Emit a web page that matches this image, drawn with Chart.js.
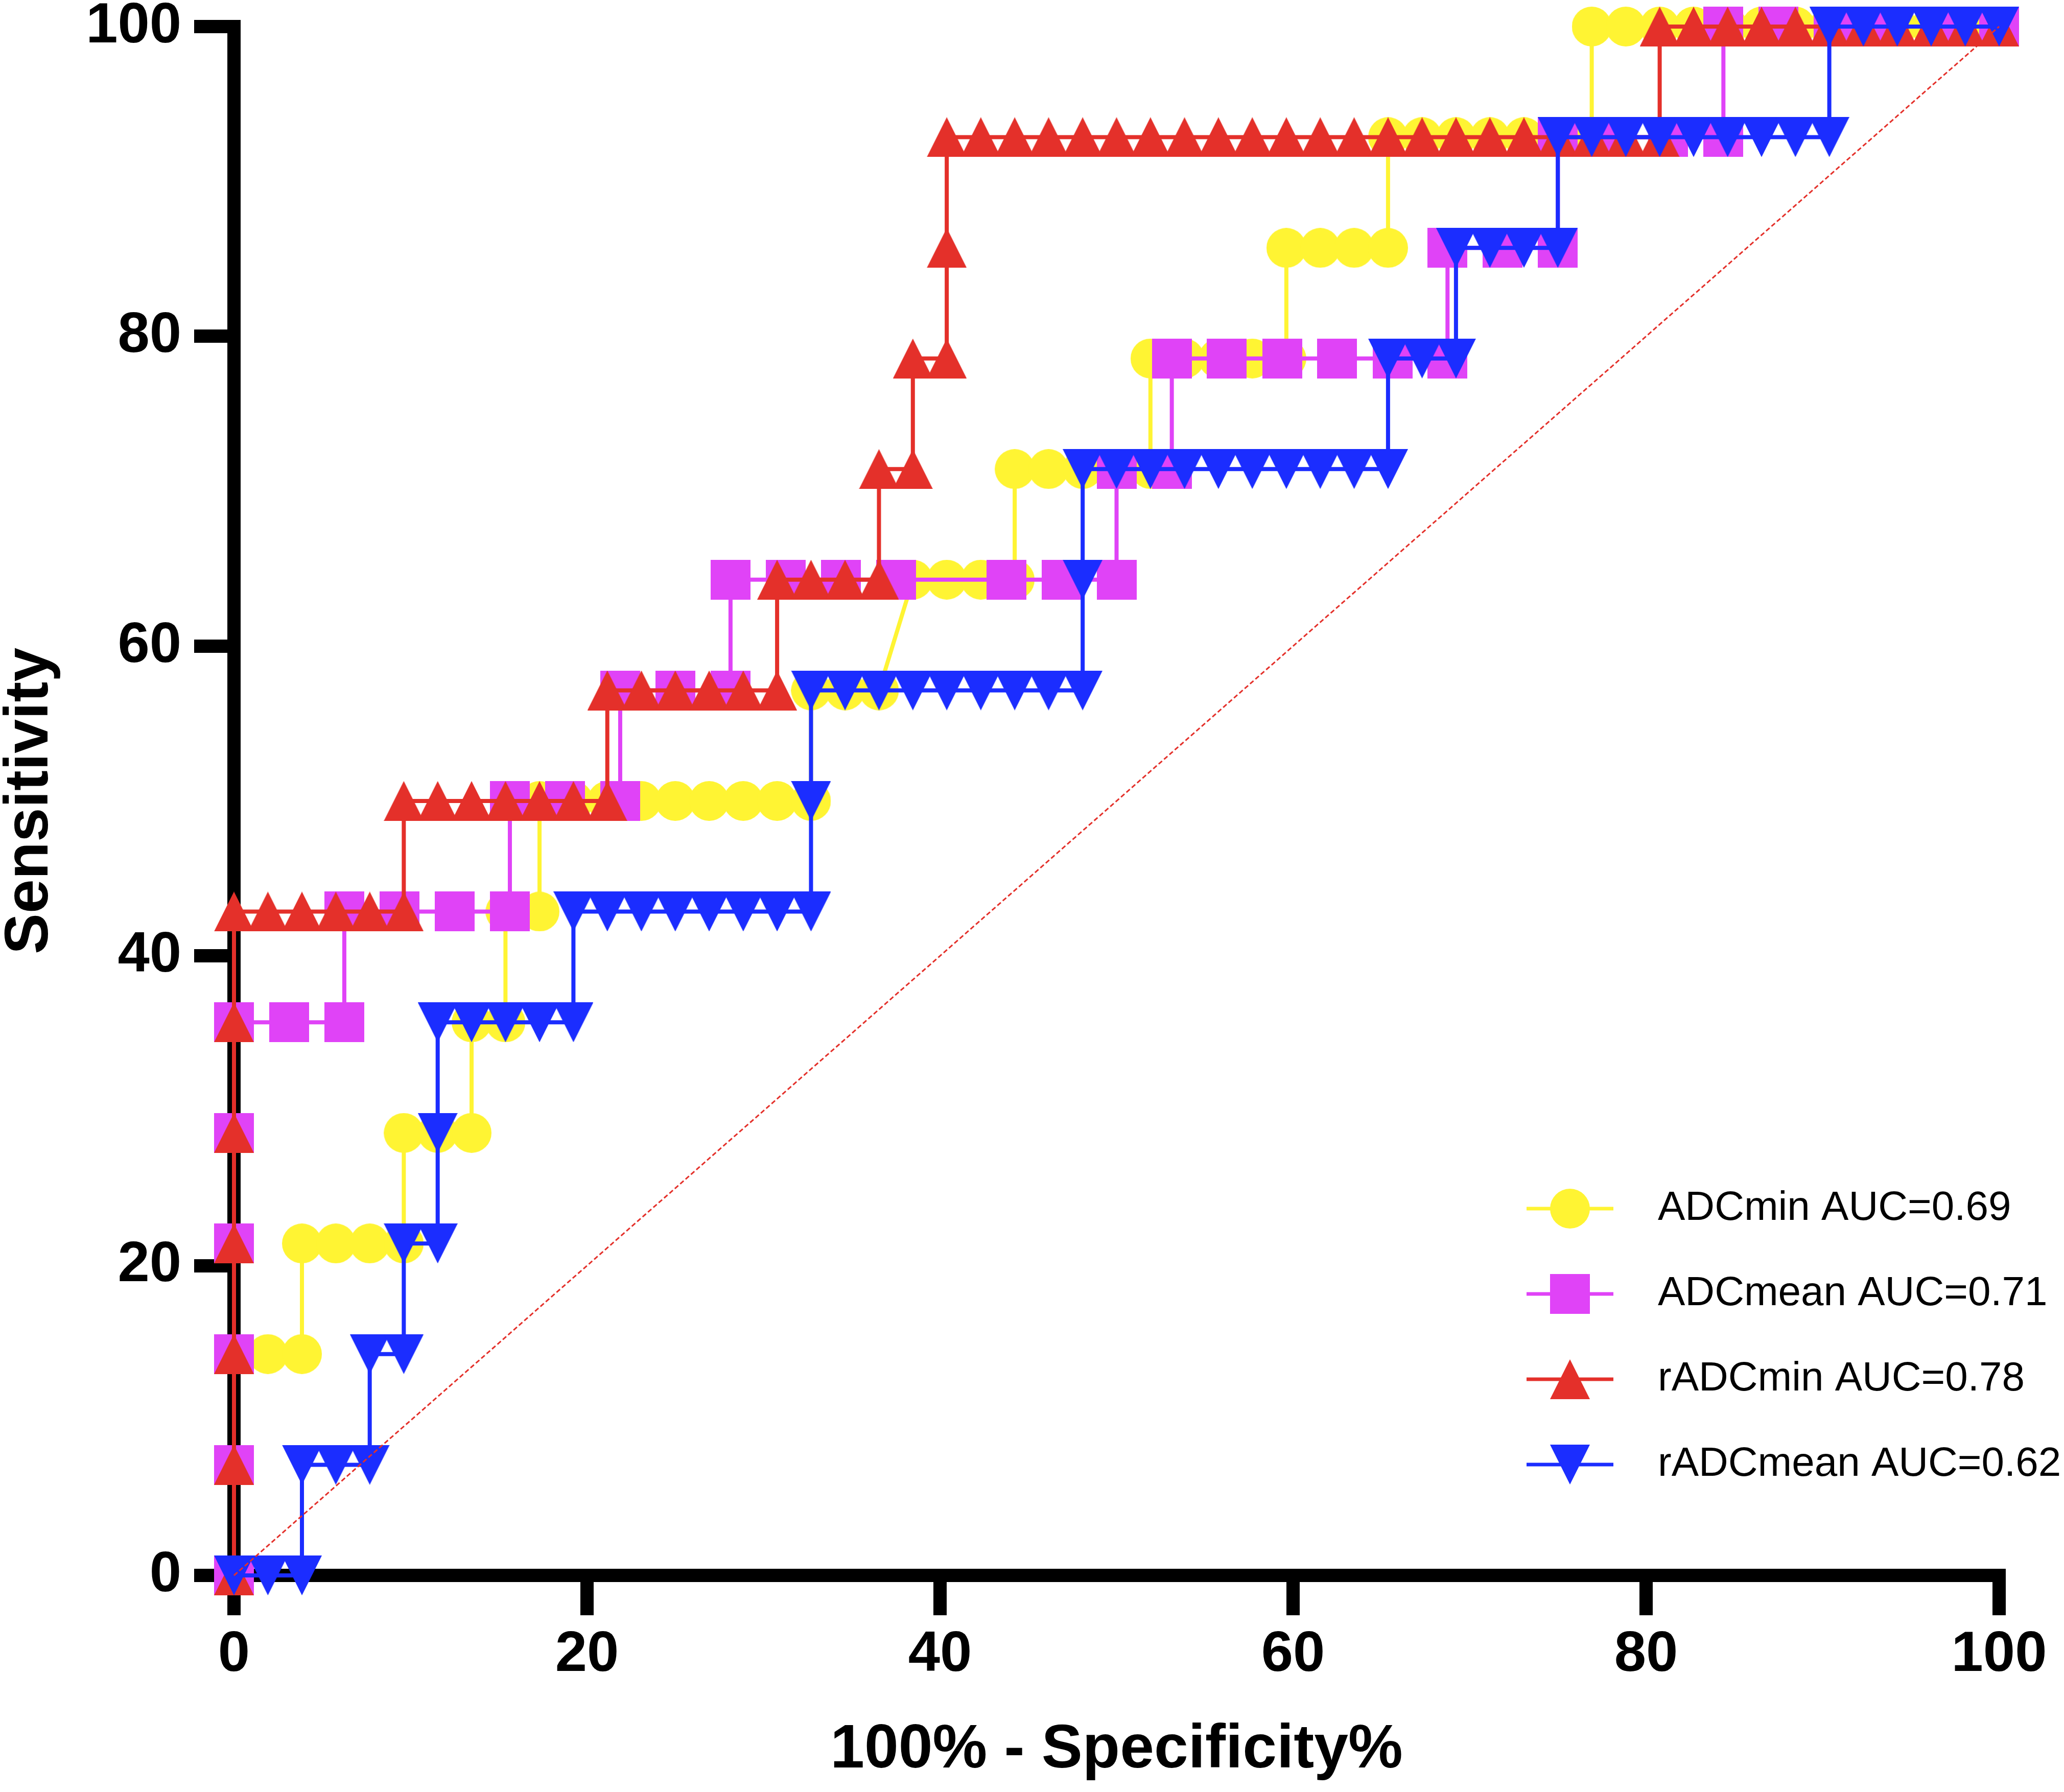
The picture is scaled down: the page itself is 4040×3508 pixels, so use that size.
<!DOCTYPE html>
<html>
<head>
<meta charset="utf-8">
<title>ROC - ADC</title>
<script src="https://cdn.jsdelivr.net/npm/chart.js@4.4.1/dist/chart.umd.min.js"></script>
<style>
  html, body { margin: 0; padding: 0; background: #fff; }
  #wrap { width: 4040px; height: 3508px; }
</style>
</head>
<body>
<div id="wrap"><canvas id="chartRoc" width="4040" height="3508"></canvas></div>
<script>
const FONT = '"Liberation Sans", Arial, Helvetica, sans-serif';

const seriesNames = ['ADCmin AUC=0.69', 'ADCmean AUC=0.71', 'rADCmin AUC=0.78', 'rADCmean AUC=0.62'];
const seriesColors = ['#fff433', '#e043f7', '#e4302a', '#1b2dff'];
const seriesShapes = ['circle', 'square', 'up', 'down'];
const xTicks = [0, 20, 40, 60, 80, 100];
const yTicks = [0, 20, 40, 60, 80, 100];
const xTitle = '100% - Specificity%';
const yTitle = 'Sensitivity';

// ADCmin
const adcMinX = [0, 0, 0, 1.92, 3.85, 3.85, 5.77, 7.69, 9.62, 9.62, 11.54, 13.46, 13.46, 15.38, 15.38, 17.31,
  17.31, 19.23, 21.15, 23.08, 25, 26.92, 28.85, 30.77, 32.69, 32.69, 34.62, 36.54, 38.46, 40.38, 42.31, 44.23,
  44.23, 46.15, 48.08, 50, 51.92, 51.92, 53.85, 55.77, 57.69, 59.62, 59.62, 61.54, 63.46, 65.38,
  65.38, 67.31, 69.23, 71.15, 73.08, 75, 76.92, 76.92, 78.85, 80.77, 82.69, 84.62, 86.54, 88.46, 90.38,
  92.31, 94.23, 96.15, 98.08, 100];
const adcMinY = [0, 7.14, 14.29, 14.29, 14.29, 21.43, 21.43, 21.43, 21.43, 28.57, 28.57, 28.57, 35.71, 35.71, 42.86, 42.86,
  50, 50, 50, 50, 50, 50, 50, 50, 50, 57.14, 57.14, 57.14, 64.29, 64.29, 64.29, 64.29,
  71.43, 71.43, 71.43, 71.43, 71.43, 78.57, 78.57, 78.57, 78.57, 78.57, 85.71, 85.71, 85.71, 85.71,
  92.86, 92.86, 92.86, 92.86, 92.86, 92.86, 92.86, 100, 100, 100, 100, 100, 100, 100, 100,
  100, 100, 100, 100, 100];

// ADCmean
const adcMeanX = [0, 0, 0, 0, 0, 0, 3.13, 6.25, 6.25, 9.38, 12.5, 15.63, 15.63, 18.75, 21.88, 21.88, 25, 28.13,
  28.13, 31.25, 34.38, 37.5, 43.75, 46.88, 50, 50, 53.13, 53.13, 56.25, 59.38, 62.5, 65.63, 68.75,
  68.75, 71.88, 75, 75, 78.13, 81.25, 84.38, 84.38, 87.5, 90.63, 93.75, 96.88, 100];
const adcMeanY = [0, 7.14, 14.29, 21.43, 28.57, 35.71, 35.71, 35.71, 42.86, 42.86, 42.86, 42.86, 50, 50, 50, 57.14, 57.14, 57.14,
  64.29, 64.29, 64.29, 64.29, 64.29, 64.29, 64.29, 71.43, 71.43, 78.57, 78.57, 78.57, 78.57, 78.57, 78.57,
  85.71, 85.71, 85.71, 92.86, 92.86, 92.86, 92.86, 100, 100, 100, 100, 100, 100];

// rADCmin
const radcMinX = [0, 0, 0, 0, 0, 0, 0, 1.92, 3.85, 5.77, 7.69, 9.62, 9.62, 11.54, 13.46, 15.38, 17.31, 19.23, 21.15,
  21.15, 23.08, 25, 26.92, 28.85, 30.77, 30.77, 32.69, 34.62, 36.54, 36.54, 38.46, 38.46, 40.38, 40.38,
  40.38, 42.31, 44.23, 46.15, 48.08, 50, 51.92, 53.85, 55.77, 57.69, 59.62, 61.54, 63.46, 65.38, 67.31,
  69.23, 71.15, 73.08, 75, 76.92, 78.85, 80.77, 80.77, 82.69, 84.62, 86.54, 88.46, 90.38, 92.31, 94.23,
  96.15, 98.08, 100];
const radcMinY = [0, 7.14, 14.29, 21.43, 28.57, 35.71, 42.86, 42.86, 42.86, 42.86, 42.86, 42.86, 50, 50, 50, 50, 50, 50, 50,
  57.14, 57.14, 57.14, 57.14, 57.14, 57.14, 64.29, 64.29, 64.29, 64.29, 71.43, 71.43, 78.57, 78.57, 85.71,
  92.86, 92.86, 92.86, 92.86, 92.86, 92.86, 92.86, 92.86, 92.86, 92.86, 92.86, 92.86, 92.86, 92.86, 92.86,
  92.86, 92.86, 92.86, 92.86, 92.86, 92.86, 92.86, 100, 100, 100, 100, 100, 100, 100, 100,
  100, 100, 100];

// rADCmean
const radcMeanX = [0, 1.92, 3.85, 3.85, 5.77, 7.69, 7.69, 9.62, 9.62, 11.54, 11.54, 11.54, 13.46, 15.38, 17.31, 19.23,
  19.23, 21.15, 23.08, 25, 26.92, 28.85, 30.77, 32.69, 32.69, 32.69, 34.62, 36.54, 38.46, 40.38, 42.31, 44.23,
  46.15, 48.08, 48.08, 48.08, 50, 51.92, 53.85, 55.77, 57.69, 59.62, 61.54, 63.46, 65.38, 65.38, 67.31, 69.23,
  69.23, 71.15, 73.08, 75, 75, 76.92, 78.85, 80.77, 82.69, 84.62, 86.54, 88.46, 90.38, 90.38, 92.31, 94.23,
  96.15, 98.08, 100];
const radcMeanY = [0, 0, 0, 7.14, 7.14, 7.14, 14.29, 14.29, 21.43, 21.43, 28.57, 35.71, 35.71, 35.71, 35.71, 35.71,
  42.86, 42.86, 42.86, 42.86, 42.86, 42.86, 42.86, 42.86, 50, 57.14, 57.14, 57.14, 57.14, 57.14, 57.14, 57.14,
  57.14, 57.14, 64.29, 71.43, 71.43, 71.43, 71.43, 71.43, 71.43, 71.43, 71.43, 71.43, 71.43, 78.57, 78.57, 78.57,
  85.71, 85.71, 85.71, 85.71, 92.86, 92.86, 92.86, 92.86, 92.86, 92.86, 92.86, 92.86, 92.86, 100, 100, 100,
  100, 100, 100];

// line of identity
const diagX = [0, 100];
const diagY = [0, 100];

function toPoints(xs, ys) {
  return xs.map((x, i) => ({ x: x, y: ys[i] }));
}

// filled marker drawn once on a small canvas, used as pointStyle
function marker(shape, color, size) {
  const c = document.createElement('canvas');
  c.width = size;
  c.height = size;
  const g = c.getContext('2d');
  g.fillStyle = color;
  g.beginPath();
  if (shape === 'circle') {
    g.arc(size / 2, size / 2, size / 2, 0, Math.PI * 2);
  } else if (shape === 'square') {
    g.rect(0, 0, size, size);
  } else if (shape === 'up') {
    g.moveTo(size / 2, 0); g.lineTo(size, size); g.lineTo(0, size); g.closePath();
  } else {
    g.moveTo(0, 0); g.lineTo(size, 0); g.lineTo(size / 2, size); g.closePath();
  }
  g.fill();
  return c;
}

const markers = seriesShapes.map((s, i) => marker(s, seriesColors[i], 78));

function rocSet(i, xs, ys, order) {
  return {
    label: seriesNames[i],
    data: toPoints(xs, ys),
    borderColor: seriesColors[i],
    backgroundColor: seriesColors[i],
    borderWidth: 8,
    pointStyle: markers[i],
    pointRadius: 39,
    pointHoverRadius: 39,
    tension: 0,
    clip: false,
    order: order
  };
}

// legend in the lower right, line with marker like the original
const rocLegend = {
  id: 'rocLegend',
  afterDraw(chart) {
    const ctx = chart.ctx;
    const area = chart.chartArea;
    const x0 = area.right - 925;
    const y0 = area.bottom - 718;
    ctx.save();
    seriesNames.forEach((name, i) => {
      const y = y0 + i * 167;
      ctx.strokeStyle = seriesColors[i];
      ctx.lineWidth = 7;
      ctx.beginPath();
      ctx.moveTo(x0, y);
      ctx.lineTo(x0 + 170, y);
      ctx.stroke();
      ctx.drawImage(markers[i], x0 + 85 - 39, y - 39, 78, 78);
      ctx.fillStyle = '#000';
      ctx.font = '80px ' + FONT;
      ctx.textAlign = 'left';
      ctx.textBaseline = 'middle';
      ctx.fillText(name, x0 + 257, y);
    });
    ctx.restore();
  }
};

function axisOpts(ticks, title, isX) {
  return {
    type: 'linear',
    min: 0,
    max: 100,
    position: isX ? 'bottom' : 'left',
    afterBuildTicks: (scale) => { scale.ticks = ticks.map(v => ({ value: v })); },
    afterFit: (scale) => {
      if (isX) {
        scale.height = 424;
        scale.paddingLeft = 0;
        scale.paddingRight = 0;
      } else {
        scale.width = 458;
        scale.paddingTop = 0;
        scale.paddingBottom = 0;
      }
    },
    ticks: {
      color: '#000',
      font: { family: FONT, size: 112, weight: 'bold', lineHeight: 1.2 },
      padding: isX ? 11 : 25,
      maxRotation: 0,
      autoSkip: false
    },
    grid: {
      display: true,
      drawOnChartArea: false,
      drawTicks: true,
      tickLength: 78,
      lineWidth: 26,
      color: '#000'
    },
    border: { display: true, width: 26, color: '#000' },
    title: {
      display: true,
      text: title,
      color: '#000',
      font: { family: FONT, size: 120, weight: 'bold', lineHeight: 1 },
      padding: isX ? { top: 0, bottom: 21 } : { top: 0, bottom: 0 }
    }
  };
}

new Chart(document.getElementById('chartRoc'), {
  type: 'line',
  data: {
    datasets: [
      rocSet(0, adcMinX, adcMinY, 4),
      rocSet(1, adcMeanX, adcMeanY, 3),
      rocSet(2, radcMinX, radcMinY, 2),
      rocSet(3, radcMeanX, radcMeanY, 1),
      {
        label: 'reference',
        data: toPoints(diagX, diagY),
        borderColor: '#e4302a',
        borderWidth: 3,
        borderDash: [9, 5],
        pointRadius: 0,
        tension: 0,
        clip: false,
        order: 0
      }
    ]
  },
  options: {
    responsive: false,
    devicePixelRatio: 1,
    animation: false,
    events: [],
    layout: { padding: { top: 52, right: 127, bottom: 0, left: 0 } },
    scales: {
      x: axisOpts(xTicks, xTitle, true),
      y: axisOpts(yTicks, yTitle, false)
    },
    plugins: {
      legend: { display: false },
      tooltip: { enabled: false }
    }
  },
  plugins: [rocLegend]
});
</script>
</body>
</html>
